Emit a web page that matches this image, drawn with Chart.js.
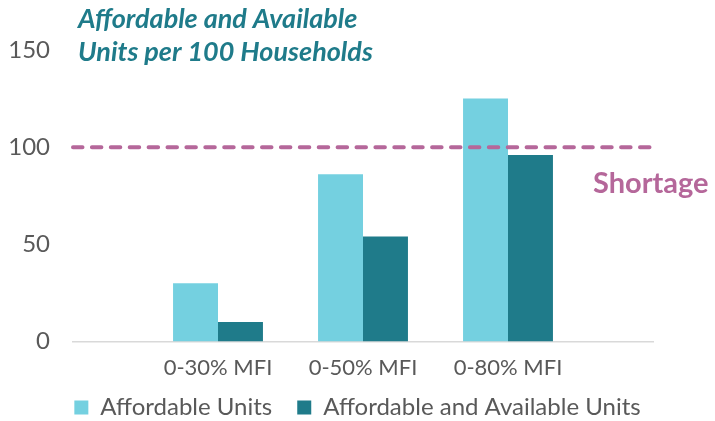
<!DOCTYPE html>
<html>
<head>
<meta charset="utf-8">
<script src="https://cdn.jsdelivr.net/npm/chart.js@4.4.1/dist/chart.umd.min.js"></script>
<style>
    html, body { margin: 0; padding: 0; background: #fff; }
    canvas { display: block; }
</style>
</head>
<body>
<canvas id="chart" width="715" height="421"></canvas>
<script>
/* --------------------------
   DATA
--------------------------- */
const categories = ['', '0-30% MFI', '0-50% MFI', '0-80% MFI', ''];
const affordableUnits = [null, 30, 86, 125, null];
const affordableAvailable = [null, 10, 54, 96, null];
const shortageLevel = [100, 100, 100, 100, 100];
const yTicks = [0, 50, 100, 150];
const seriesNames = ['Affordable Units', 'Affordable and Available Units'];
const titleLines = ['Affordable and Available', 'Units per 100 Households'];
const shortageText = 'Shortage';

/* --------------------------
   COLOURS
--------------------------- */
const LIGHT = '#74D0E0';
const DARK = '#1F7B8A';
const PINK = '#B5679A';
const GREY = '#595959';
const FONT = 'Lato';

// title and "Shortage" label drawn straight on the canvas
const textPlugin = {
    id: 'textPlugin',
    afterDraw(chart) {
        let c = chart.ctx;
        c.save();
        c.textAlign = 'left';
        c.textBaseline = 'alphabetic';
        c.fillStyle = DARK;
        c.font = 'italic bold 27px ' + FONT;
        c.fillText(titleLines[0], 78, 28);
        c.fillText(titleLines[1], 78, 61);
        c.fillStyle = PINK;
        c.font = 'bold 29px ' + FONT;
        c.fillText(shortageText, 593, 193);
        c.restore();
    }
};

let ctx = document.getElementById('chart').getContext('2d');

let chart = new Chart(ctx, {
    type: 'bar',
    data: {
        labels: categories,
        datasets: [{
            type: 'line',
            label: '',
            data: shortageLevel,
            borderColor: PINK,
            borderWidth: 4,
            borderDash: [9.5, 9.4],
            borderCapStyle: 'round',
            pointRadius: 0,
            fill: false,
            order: -1
        }, {
            label: seriesNames[0],
            data: affordableUnits,
            backgroundColor: LIGHT,
            borderWidth: 0
        }, {
            label: seriesNames[1],
            data: affordableAvailable,
            backgroundColor: DARK,
            borderWidth: 0
        }]
    },
    options: {
        responsive: false,
        animation: false,
        categoryPercentage: 0.62,
        barPercentage: 1.0,
        layout: { padding: { left: 0, right: 0, top: 50, bottom: -8.5 } },
        scales: {
            x: {
                offset: false,
                grid: { display: false, drawTicks: false },
                border: { display: true, color: '#D9D9D9', width: 1.5 },
                ticks: {
                    color: GREY,
                    font: { family: FONT, size: 22 },
                    mirror: true,      // no clipping of the labels
                    padding: -39.7,
                    autoSkip: false,
                    maxRotation: 0
                },
                afterFit: s => { s.height = 29; }
            },
            y: {
                min: 0,
                max: 150,
                grid: { display: false, drawTicks: false },
                border: { display: false },
                ticks: {
                    color: GREY,
                    font: { family: FONT, size: 24 },
                    padding: 23
                },
                afterBuildTicks: s => { s.ticks = yTicks.map(v => ({ value: v })); },
                afterFit: s => { s.width = 73; }
            },
            y2: {
                type: 'linear',
                position: 'right',
                display: true,
                grid: { display: false, drawTicks: false },
                border: { display: false },
                ticks: { display: false },
                afterFit: s => { s.width = 62; }
            }
        },
        plugins: {
            title: { display: false },
            tooltip: { enabled: false },
            legend: {
                position: 'bottom',
                align: 'center',
                labels: {
                    filter: item => item.datasetIndex !== 0,
                    color: GREY,
                    font: { family: FONT, size: 24 },
                    boxWidth: 14,
                    boxHeight: 14,
                    padding: 25
                }
            }
        }
    },
    plugins: [textPlugin]
});
</script>
</body>
</html>
